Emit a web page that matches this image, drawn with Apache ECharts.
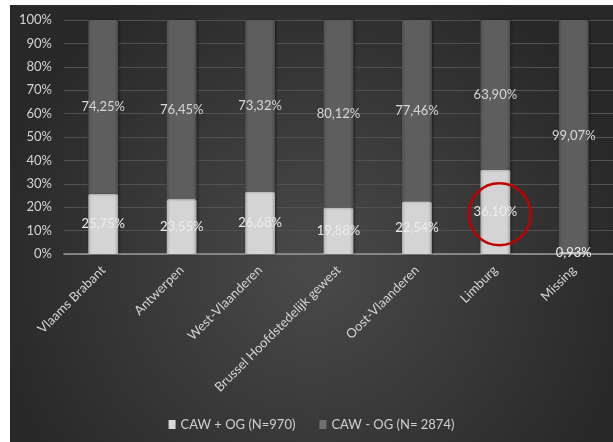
<!DOCTYPE html>
<html><head><meta charset="utf-8">
<script src="https://cdn.jsdelivr.net/npm/echarts@6/dist/echarts.min.js"></script>
<style>
html,body{margin:0;padding:0;background:#fff;width:613px;height:442px;overflow:hidden;}
#c{position:absolute;left:10px;top:5px;width:603px;height:437px;}
</style></head><body>
<div id="c"></div>
<script>
const categories = ['Vlaams Brabant','Antwerpen','West-Vlaanderen','Brussel Hoofdstedelijk gewest','Oost-Vlaanderen','Limburg','Missing'];
const withOG = [25.75, 23.55, 26.68, 19.88, 22.54, 36.10, 0.93];
const withoutOG = [74.25, 76.45, 73.32, 80.12, 77.46, 63.90, 99.07];
const seriesNames = ['CAW + OG (N=970)', 'CAW - OG (N= 2874)'];
const highlight = {category: 'Limburg', value: 17};

const chart = echarts.init(document.getElementById('c'));
const fmt = p => p.value.toFixed(2).replace('.', ',') + '%';
const font = 'Lato, "Open Sans", sans-serif';
chart.setOption({
  backgroundColor: {type:'radial', x:0.5, y:0.6, r:0.75, colorStops:[{offset:0,color:'#4a4a4a'},{offset:1,color:'#282828'}]},
  animation:false,
  textStyle:{fontFamily:font},
  grid:{left:54, right:0, top:15, bottom:188},
  legend:{
    bottom:6, left:'center', itemWidth:7, itemHeight:9, itemGap:24,
    textStyle:{color:'#d0d0d0', fontSize:13, fontFamily:font},
    data:[{name:seriesNames[0], icon:'rect', itemStyle:{color:'#d8d8d8'}},{name:seriesNames[1], icon:'rect', itemStyle:{color:'#707070'}}]
  },
  xAxis:{
    type:'category', data:categories,
    axisLine:{lineStyle:{color:'#9a9a9a', width:1.5}},
    axisTick:{show:false},
    axisLabel:{rotate:45, interval:0, color:'#d4d4d4', fontSize:13, fontFamily:font, margin:14}
  },
  yAxis:{
    type:'value', min:0, max:100, interval:10,
    axisLabel:{formatter:'{value}%', color:'#d4d4d4', fontSize:13, fontFamily:font, margin:12},
    axisLine:{show:false}, axisTick:{show:false},
    splitLine:{lineStyle:{color:'#515151', width:1}}
  },
  series:[
    {
      name:seriesNames[0], type:'bar', stack:'a', data:withOG, barWidth:'38%',
      itemStyle:{
        color:{type:'linear',x:0,y:0,x2:1,y2:0,colorStops:[{offset:0,color:'#b4b4b4'},{offset:0.12,color:'#d4d4d4'},{offset:0.88,color:'#d4d4d4'},{offset:1,color:'#a8a8a8'}]},
        borderRadius:[2,2,0,0],
        shadowColor:'rgba(0,0,0,0.5)', shadowBlur:3, shadowOffsetX:1
      },
      label:{show:true, position:'inside', formatter:fmt, color:'#ececec', fontSize:13, fontFamily:font},
      markPoint:{
        symbol:'circle', symbolSize:62, silent:true, symbolOffset:[4,0],
        itemStyle:{color:'rgba(0,0,0,0)', borderColor:'#c00000', borderWidth:2.5},
        label:{show:false},
        data:[{coord:[highlight.category, highlight.value]}]
      }
    },
    {
      name:seriesNames[1], type:'bar', stack:'a', data:withoutOG, barWidth:'38%',
      itemStyle:{
        color:{type:'linear',x:0,y:0,x2:1,y2:0,colorStops:[{offset:0,color:'#505050'},{offset:0.12,color:'#5e5e5e'},{offset:0.88,color:'#5e5e5e'},{offset:1,color:'#4a4a4a'}]},
        borderRadius:[2,2,0,0],
        shadowColor:'rgba(0,0,0,0.5)', shadowBlur:3, shadowOffsetX:1
      },
      label:{show:true, position:'inside', formatter:fmt, color:'#d8d8d8', fontSize:13, fontFamily:font}
    }
  ]
});
</script>
</body></html>
